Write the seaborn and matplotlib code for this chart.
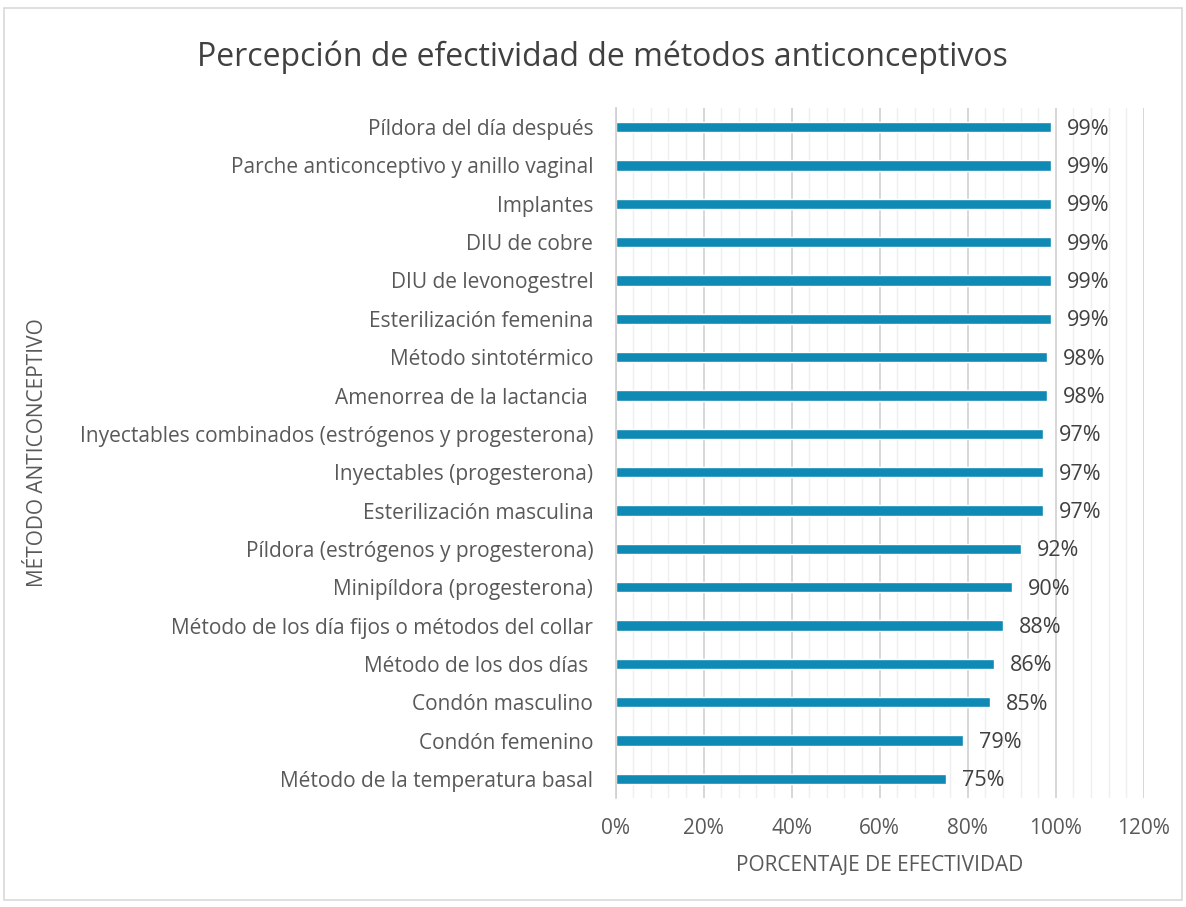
import pandas as pd
import matplotlib.pyplot as plt
import seaborn as sns
from matplotlib.ticker import MultipleLocator, PercentFormatter
from matplotlib.patches import Rectangle

# Chart data
metodos = [
    'Píldora del día después',
    'Parche anticonceptivo y anillo vaginal',
    'Implantes',
    'DIU de cobre',
    'DIU de levonogestrel',
    'Esterilización femenina',
    'Método sintotérmico',
    'Amenorrea de la lactancia ',
    'Inyectables combinados (estrógenos y progesterona)',
    'Inyectables (progesterona)',
    'Esterilización masculina',
    'Píldora (estrógenos y progesterona)',
    'Minipíldora (progesterona)',
    'Método de los día fijos o métodos del collar',
    'Método de los dos días ',
    'Condón masculino',
    'Condón femenino',
    'Método de la temperatura basal',
]
efectividad = [99, 99, 99, 99, 99, 99, 98, 98, 97, 97, 97, 92, 90, 88, 86, 85, 79, 75]

data = pd.DataFrame({'metodo': metodos, 'efectividad': efectividad})

sns.set_style('white')
plt.rcParams['font.family'] = ['Open Sans', 'DejaVu Sans']
txt = '#595959'

fig = plt.figure(figsize=(11.86, 9.07), dpi=100)
ax = fig.add_axes([0.519, 0.120, 0.4455, 0.761])

sns.barplot(data=data, x='efectividad', y='metodo', orient='h', color='#0E8AB4',
            width=0.27, saturation=1, ax=ax)

ax.set_xlim(0, 120)
ax.xaxis.set_major_locator(MultipleLocator(20))
ax.xaxis.set_minor_locator(MultipleLocator(4))
ax.xaxis.set_major_formatter(PercentFormatter(decimals=0))
ax.grid(axis='x', which='major', color='#D4D4D4', linewidth=1.3)
ax.grid(axis='x', which='minor', color='#EFEFEF', linewidth=1.0)
ax.set_axisbelow(True)

for s in ['top', 'right', 'bottom']:
    ax.spines[s].set_visible(False)
ax.spines['left'].set_color('#D0D0D0')
ax.spines['left'].set_linewidth(1.2)

# tick marks on the category axis sit between bars
ax.set_yticks(range(len(metodos)))
ax.set_yticklabels(metodos)
ax.tick_params(axis='y', which='major', length=0, labelsize=15, labelcolor=txt, pad=16)
ax.set_yticks([i + 0.5 for i in range(-1, len(metodos))], minor=True)
ax.tick_params(axis='y', which='minor', length=6, color='#D0D0D0', width=1.2, direction='out')
ax.tick_params(axis='x', which='both', length=0, labelsize=15, labelcolor=txt, pad=14)

for i, v in enumerate(efectividad):
    ax.text(v + 3.6, i + 0.05, f'{v}%', va='center', ha='left', fontsize=15.5, color='#404040')

ax.set_xlabel('PORCENTAJE DE EFECTIVIDAD', fontsize=15, color=txt, labelpad=12)
ax.set_ylabel('MÉTODO ANTICONCEPTIVO', fontsize=15, color=txt)
ax.yaxis.set_label_coords(-1.075, 0.5)

fig.suptitle('Percepción de efectividad de métodos anticonceptivos', x=0.508, y=0.955,
             fontsize=23, color='#404040')

fig.patches.append(Rectangle((0.003, 0.008), 0.994, 0.983, transform=fig.transFigure,
                             fill=False, edgecolor='#D9D9D9', linewidth=1.2))

plt.savefig('out.png', dpi=100)
